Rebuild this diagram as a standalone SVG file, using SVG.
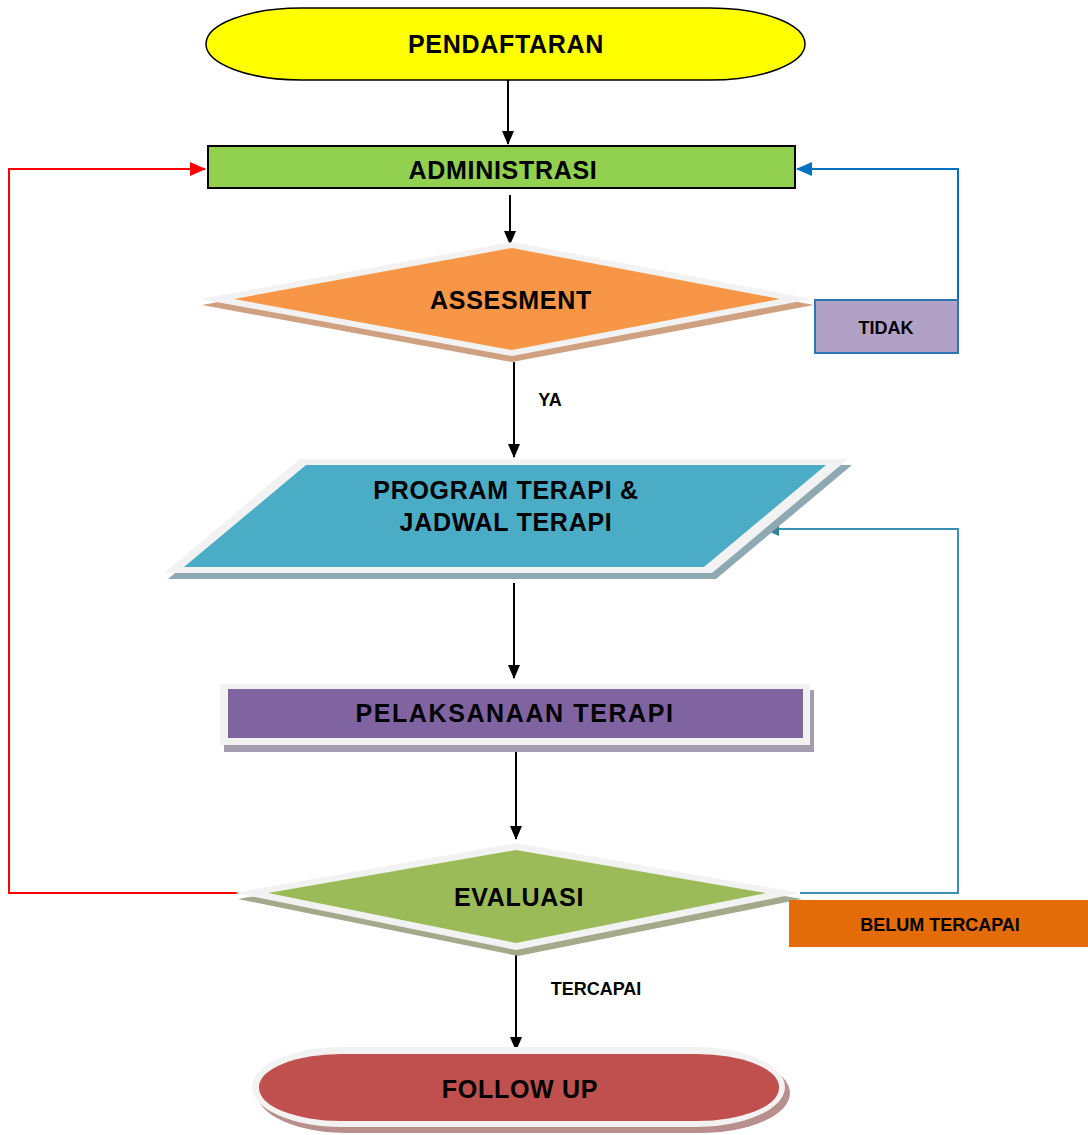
<svg xmlns="http://www.w3.org/2000/svg" width="1088" height="1135" viewBox="0 0 1088 1135">
<style>
.t{font-family:"Liberation Sans",Arial,sans-serif;font-weight:bold;font-size:25px;letter-spacing:0.7px;fill:#000;text-anchor:middle;dominant-baseline:central}
.s{font-family:"Liberation Sans",Arial,sans-serif;font-weight:bold;font-size:18px;fill:#000;text-anchor:middle;dominant-baseline:central}
.gray{fill:#F2F2F2}
.ln{fill:none;stroke-width:2}
</style>
<defs>
<marker id="ab" markerUnits="userSpaceOnUse" markerWidth="14" markerHeight="12" refX="13" refY="6" orient="auto"><path d="M0,0 L14,6 L0,12 Z" fill="#000"/></marker>
<marker id="ar" markerUnits="userSpaceOnUse" markerWidth="16" markerHeight="14" refX="15" refY="7" orient="auto"><path d="M0,0 L16,7 L0,14 Z" fill="#FF0000"/></marker>
<marker id="au" markerUnits="userSpaceOnUse" markerWidth="16" markerHeight="14" refX="15" refY="7" orient="auto"><path d="M0,0 L16,7 L0,14 Z" fill="#0070C0"/></marker>
<marker id="at" markerUnits="userSpaceOnUse" markerWidth="16" markerHeight="14" refX="15" refY="7" orient="auto"><path d="M0,0 L16,7 L0,14 Z" fill="#31849B"/></marker>
</defs>

<g id="connectors">
<line class="ln" x1="508" y1="65" x2="508" y2="144" stroke="#000" marker-end="url(#ab)"/>
<line class="ln" x1="510" y1="195" x2="510" y2="244" stroke="#000" marker-end="url(#ab)"/>
<line class="ln" x1="514" y1="362" x2="514" y2="457" stroke="#000" marker-end="url(#ab)"/>
<line class="ln" x1="514" y1="583" x2="514" y2="678" stroke="#000" marker-end="url(#ab)"/>
<line class="ln" x1="516" y1="745" x2="516" y2="839" stroke="#000" marker-end="url(#ab)"/>
<line class="ln" x1="516" y1="948" x2="516" y2="1050" stroke="#000" marker-end="url(#ab)"/>
<polyline class="ln" points="958,300 958,169 797,169" stroke="#0070C0" marker-end="url(#au)"/>
<polyline class="ln" points="238,893 9,893 9,169 205,169" stroke="#FF0000" marker-end="url(#ar)"/>
<polyline class="ln" points="800,893 958,893 958,529 764,529" stroke="#3B8FB5" marker-end="url(#at)"/>
<text class="s" x="550" y="400">YA</text>
<text class="s" x="596" y="989">TERCAPAI</text>
</g>

<g id="pendaftaran">
<rect x="206" y="8" width="599" height="72" rx="95" ry="36" fill="#FFFF00" stroke="#000" stroke-width="1.5"/>
<text class="t" x="506" y="44">PENDAFTARAN</text>
</g>

<g id="administrasi">
<rect x="208" y="146" width="587" height="42" fill="#92D050" stroke="#000" stroke-width="2"/>
<text class="t" x="503" y="170">ADMINISTRASI</text>
</g>

<g id="assesment">
<polygon points="202,305 512,248 814,305 512,362" fill="#CFA181"/>
<polygon class="gray" points="200,299 512,242 812,299 512,356"/>
<polygon points="234,299 512,248 780,299 512,350" fill="#F79646"/>
<text class="t" x="511" y="300">ASSESMENT</text>
</g>

<g id="tidak">
<rect x="815" y="300" width="143" height="53" fill="#B2A1C7" stroke="#2E75B6" stroke-width="2"/>
<text class="s" x="886" y="328">TIDAK</text>
</g>

<g id="program">
<polygon points="304,465 852,465 716,579 168,579" fill="#8EA9B1"/>
<polygon class="gray" points="300,459 848,459 712,573 164,573"/>
<polygon points="306,465 826,465 704,567 184,567" fill="#4BACC6"/>
<text class="t" x="506" y="490">PROGRAM TERAPI &amp;</text>
<text class="t" x="506" y="522">JADWAL TERAPI</text>
</g>

<g id="pelaksanaan">
<rect x="224" y="690" width="590" height="62" fill="#A39DAF"/>
<rect class="gray" x="220" y="684" width="590" height="61"/>
<rect x="228" y="689" width="575" height="49" fill="#8064A2"/>
<text class="t" x="515" y="713" style="letter-spacing:1.6px">PELAKSANAAN TERAPI</text>
</g>

<g id="evaluasi">
<polygon points="238,899 518,849 802,899 518,956" fill="#A4A98B"/>
<polygon class="gray" points="235,893 516,843 800,893 516,950"/>
<polygon points="268,893 516,850 766,893 516,943" fill="#9BBB59"/>
<text class="t" x="519" y="897">EVALUASI</text>
</g>

<g id="belum">
<rect x="789" y="900" width="299" height="47" fill="#E36C09"/>
<text class="s" x="940" y="925">BELUM TERCAPAI</text>
</g>

<g id="followup">
<rect x="257" y="1053" width="533" height="80" rx="90" ry="40" fill="#B98F8E"/>
<rect class="gray" x="252" y="1047" width="533" height="80" rx="90" ry="40"/>
<rect x="259" y="1054" width="520" height="67" rx="82" ry="33" fill="#C0504D"/>
<text class="t" x="520" y="1089">FOLLOW UP</text>
</g>
</svg>
